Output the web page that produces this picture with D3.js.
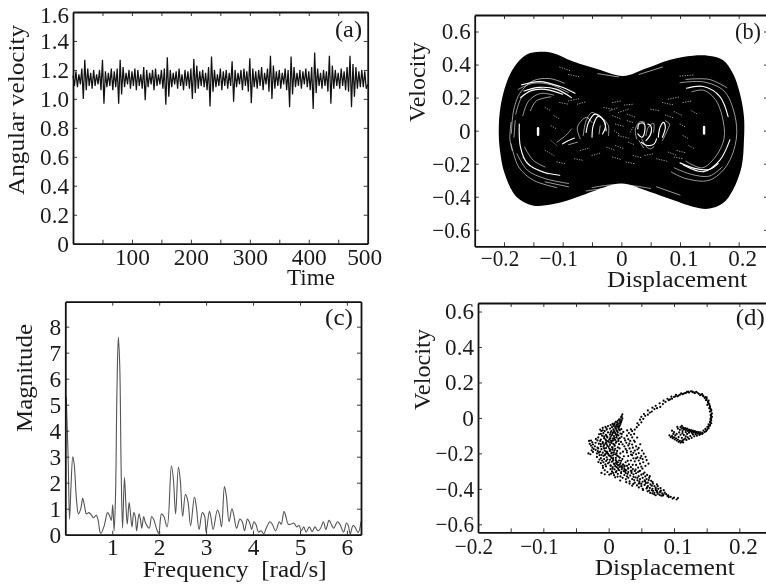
<!DOCTYPE html>
<html>
<head>
<meta charset="utf-8">
<script src="https://cdn.jsdelivr.net/npm/d3@7"></script>
<style>
  html, body { margin: 0; padding: 0; background: #fff; overflow: hidden; }
  svg { display: block; filter: blur(0.4px); }
  text { font-family: "Liberation Serif", serif; fill: #1a1a1a; white-space: pre; }
</style>
</head>
<body>
<svg id="chart" width="766" height="584"></svg>
<script>
/// DATA ///

// (a) angular velocity, one value every 2.5 time units
const velocityStep = 2.5;
const angularVelocity = [
  1.16,1.09,1.19,1.08,1.17,1.10,1.21,1.00,1.27,1.06,1.21,1.09,1.18,1.07,1.20,1.09,1.17,1.10,1.20,1.06,
  1.27,.966,1.19,1.08,1.18,1.09,1.21,1.06,1.19,1.08,1.21,.966,1.27,1.03,1.22,1.08,1.18,1.10,1.20,1.07,
  1.19,1.09,1.21,1.06,1.20,1.09,1.17,1.07,1.22,.99,1.20,1.08,1.18,1.10,1.20,1.06,1.21,1.09,1.17,1.10,
  1.20,1.07,1.21,.96,1.287,1.015,1.20,1.08,1.18,1.10,1.19,1.07,1.21,1.09,1.17,1.06,1.20,1.09,1.19,1.07,
  1.21,1.00,1.275,1.04,1.23,1.07,1.19,1.09,1.20,1.08,1.18,1.06,1.22,.948,1.293,1.05,1.20,1.08,1.17,1.09,
  1.21,1.06,1.19,1.09,1.20,1.07,1.18,1.09,1.26,.98,1.20,1.08,1.18,1.10,1.20,1.06,1.21,1.09,1.19,1.05,
  1.28,.97,1.21,1.08,1.19,1.07,1.20,1.09,1.22,1.06,1.18,1.10,1.21,1.05,1.298,1.00,1.23,1.07,1.19,1.09,
  1.20,1.07,1.18,1.10,1.21,1.06,1.20,.943,1.293,1.03,1.22,1.08,1.18,1.09,1.20,1.07,1.19,1.10,1.21,1.08,
  1.19,1.06,1.22,.93,1.32,1.04,1.21,1.09,1.18,1.07,1.20,1.09,1.19,1.05,1.298,.966,1.23,1.07,1.20,1.09,
  1.18,1.07,1.21,1.09,1.19,1.06,1.22,1.05,1.298,.943,1.24,1.015,1.22,1.07,1.19,1.08,1.20,1.08,1.19,1.07,
  1.10
];

// (b) phase portrait: outline of the black region and the white gaps left by the orbits
const portraitOutline = [
  [-.209,0],[-.206,.145],[-.196,.287],[-.182,.388],[-.162,.459],[-.139,.477],[-.116,.469],[-.082,.418],
  [-.037,.368],[.003,.331],[.043,.378],[.082,.428],[.122,.453],[.148,.453],[.173,.428],[.19,.347],
  [.202,.226],[.209,.085],[.209,-.057],[.205,-.218],[.19,-.36],[.173,-.44],[.148,-.473],[.122,-.46],
  [.088,-.42],[.048,-.37],[0,-.32],[-.043,-.36],[-.082,-.41],[-.116,-.444],[-.151,-.453],[-.179,-.40],
  [-.199,-.259],[-.207,-.117]
];
const wideGaps = [
  [[-.17,.277],[-.1386,.297],[-.1045,.267],[-.079,.227]],
  [[-.166,.24],[-.14,.262],[-.11,.25],[-.085,.2]],
  [[-.172,.2],[-.155,.24],[-.13,.25],[-.1,.22]],
  [[-.174,.04],[-.172,-.1],[-.16,-.2],[-.133,-.25],[-.105,-.27]],
  [[.1,-.195],[.125,-.228],[.15,-.235],[.165,-.2]],
  [[.111,.257],[.14,.267],[.168,.206],[.182,.085]],
  [[.185,-.056],[.168,-.178],[.14,-.248],[.106,-.208]],
  [[-.1,-.08],[-.09,-.06],[-.08,-.045]],
  [[-.06,-.01],[-.056,.05],[-.045,.1],[-.034,.08],[-.027,.03],[-.032,-.02]],
  [[-.05,-.04],[-.048,.03],[-.04,.085],[-.03,.06],[-.026,0]],
  [[.028,.01],[.03,.04],[.038,.045],[.04,0],[.035,-.04],[.028,-.02]],
  [[.063,-.04],[.066,.02],[.072,.05],[.075,.02],[.07,-.04]],
  [[.045,.04],[.05,.03],[.05,-.02],[.042,-.06]],
  [[.034,-.07],[.044,-.09],[.056,-.08],[.06,-.05]]
];
const thinGaps = [
  [[-.1875,-.016],[-.1835,.125],[-.173,.226],[-.151,.301],[-.122,.315],[-.097,.287]],
  [[-.176,.25],[-.15,.287],[-.12,.278],[-.09,.23]],
  [[-.18,.1],[-.17,.2],[-.15,.25]],
  [[-.168,.09],[-.158,.18],[-.138,.225],[-.115,.215]],
  [[-.155,.12],[-.145,.18],[-.12,.205]],
  [[-.188,.05],[-.19,-.05],[-.186,-.12]],
  [[-.181,.06],[-.183,-.04]],
  [[-.165,-.1],[-.15,-.18],[-.13,-.22]],
  [[-.168,-.16],[-.15,-.225],[-.125,-.262]],
  [[-.178,-.14],[-.16,-.24],[-.13,-.29],[-.09,-.32]],
  [[-.13,-.31],[-.09,-.34]],
  [[-.188,-.08],[-.175,-.22],[-.15,-.30],[-.11,-.345]],
  [[-.07,-.05],[-.075,.02],[-.06,.08],[-.05,.05]],
  [[-.065,-.03],[-.06,.06],[-.05,.11],[-.04,.09]],
  [[-.038,-.02],[-.036,.03]],
  [[-.03,.07],[-.022,.03],[-.022,-.03]],
  [[-.09,-.085],[-.075,-.07]],
  [[-.11,-.07],[-.095,-.03],[-.085,.01]],
  [[.026,-.05],[.024,.01],[.032,.055],[.04,.05]],
  [[.042,-.03],[.046,.02],[.055,.045],[.055,-.01]],
  [[.07,-.06],[.078,0],[.082,.04],[.075,.06]],
  [[.035,-.05],[.042,-.095],[.05,-.11],[.056,-.095]],
  [[.03,-.06],[.038,-.105]],
  [[.12,.235],[.14,.245],[.16,.19],[.172,.085],[.175,-.05],[.16,-.16],[.138,-.225],[.11,-.185]],
  [[.1,.29],[.14,.295],[.175,.24],[.193,.1],[.196,-.05],[.18,-.21],[.15,-.3],[.11,-.29],[.085,-.25]],
  [[.11,.31],[.15,.31],[.18,.26]],
  [[.09,-.225],[.12,-.265],[.15,-.275],[.172,-.22]],
  [[.06,-.34],[.1,-.39]],
  [[-.05,-.345],[-.005,-.325],[.05,-.35]],
  [[-.06,-.365],[-.02,-.345]],
  [[-.04,.345],[-.005,.325]],
  [[.03,.34],[.07,.385]]
];
const speckles = [
  [[-.105,.385],[-.085,.36]],[[-.09,.34],[-.07,.325]],[[.1,.33],[.125,.338]],[[.01,.1],[.025,.08]],
  [[-.02,.12],[-.005,.14]],[[-.01,-.09],[.005,-.11]],[[.02,-.15],[.035,-.165]],[[-.05,-.15],[-.035,-.135]],
  [[-.01,.04],[.005,.025]],[[.06,-.17],[.078,-.185]],[[-.09,.18],[-.07,.195]],[[.07,.17],[.09,.155]],
  [[-.13,-.12],[-.115,-.15]],[[-.075,.16],[-.06,.175]],[[-.105,.17],[-.09,.16]],[[.05,.13],[.065,.12]],
  [[.08,.19],[.1,.205]],[[.105,.17],[.12,.18]],[[.09,.115],[.105,.09]],[[.075,.095],[.09,.075]],
  [[-.015,.17],[0,.18]],[[.005,.155],[.02,.16]],[[-.03,.14],[-.015,.13]],[[.01,.06],[.02,.05]],
  [[-.005,-.03],[.012,-.045]],[[.012,-.07],[.022,-.085]],[[-.025,-.1],[-.01,-.12]],[[-.015,-.16],[0,-.175]],
  [[.008,-.19],[.022,-.2]],[[.04,-.15],[.055,-.14]],[[-.07,-.12],[-.055,-.105]],[[-.08,-.17],[-.065,-.18]],
  [[-.11,-.19],[-.095,-.2]],[[.095,-.12],[.11,-.135]],[[.08,-.13],[.095,-.15]],[[.09,-.16],[.105,-.17]],
  [[-.13,.14],[-.12,.12]],[[-.12,-.06],[-.11,-.09]],[[.12,.12],[.13,.1]],[[.115,-.09],[.125,-.11]],
  [[-.015,.09],[0,.07]],[[-.005,.11],[.012,.13]],[[.02,.02],[.015,-.01]],[[-.012,.0],[-.004,-.02]],
  [[-.115,.09],[-.105,.07]],[[.1,.04],[.11,.02]],[[-.12,.03],[-.11,.01]],[[.105,-.03],[.115,-.05]]
];
const centreHoles = [
  [[-.142,.015],[-.142,-.025]],
  [[.141,.022],[.141,-.018]]
];

// (c) amplitude spectrum: [frequency, magnitude]
const spectrum = [
  [.02,5.3],[.06,3.0],[.09,.6],[.12,1.8],[.16,3.0],[.19,2.7],[.24,1.3],[.28,.8],[.33,1.0],[.37,1.4],[.41,1.1],
  [.45,.8],[.5,.85],[.56,.75],[.6,.65],[.66,.75],[.7,.55],[.74,.1],[.76,.05],[.83,.35],[.9,.85],[.95,.7],[.98,.55],
  [1.01,1.15],[1.04,.15],[1.07,1.5],[1.1,5.5],[1.13,7.6],[1.16,6.5],[1.19,2.5],[1.22,.25],[1.26,2.2],[1.29,1.2],
  [1.32,.4],[1.36,1.25],[1.39,.8],[1.42,.3],[1.46,.85],[1.49,.7],[1.52,.15],[1.57,.8],[1.6,.6],[1.63,.25],[1.67,.7],
  [1.7,.5],[1.74,.35],[1.79,.25],[1.84,.7],[1.88,.6],[1.95,.2],[1.99,.05],[2.05,.8],[2.1,.7],[2.17,.3],[2.26,2.65],
  [2.3,2.2],[2.35,.8],[2.41,2.6],[2.45,2.1],[2.5,.7],[2.56,1.55],[2.61,1.3],[2.67,.35],[2.75,1.45],[2.79,1.1],
  [2.85,.2],[2.92,.85],[2.97,.7],[3.0,.1],[3.07,.9],[3.1,.7],[3.15,.2],[3.24,.95],[3.28,.8],[3.33,.3],[3.39,1.85],
  [3.43,1.5],[3.49,.5],[3.55,1.0],[3.59,.75],[3.65,.25],[3.72,.6],[3.77,.5],[3.82,.15],[3.88,.6],[3.93,.45],[3.97,.2],
  [4.02,.5],[4.06,.4],[4.12,.1],[4.17,.15],[4.23,.03],[4.28,.25],[4.36,.5],[4.41,.4],[4.48,.15],[4.56,.5],[4.6,.4],
  [4.66,.9],[4.7,.7],[4.75,.4],[4.8,.4],[4.87,.45],[4.93,.3],[4.98,.35],[5.03,.15],[5.08,.3],[5.13,.1],[5.2,.3],
  [5.26,.12],[5.32,.3],[5.38,.15],[5.44,.25],[5.5,.5],[5.55,.2],[5.62,.55],[5.68,.35],[5.72,.25],[5.8,.5],[5.85,.4],
  [5.93,.1],[5.99,.45],[6.03,.35],[6.07,.03],[6.13,.35],[6.17,.3],[6.24,.08],[6.3,.5]
];

// (d) Poincare section: [displacement, velocity]
const sectionStem = [
  [.021,.02],[.02,.01],[.019,.004],[.021,-.003],[.018,-.01],[.02,-.014],[.016,-.008],[.017,-.02],[.014,-.016],[.019,-.024],
  [.013,-.026],[.016,-.03],[.011,-.022],[.018,-.034],[.009,-.03],[.014,-.037],[.006,-.034],[.012,-.042],[.017,-.044],[.003,-.04],
  [.008,-.046],[.013,-.05],[-.001,-.046],[.005,-.052],[.01,-.056],[.015,-.058],[-.005,-.05],[-.009,-.056],[.002,-.06],[.007,-.064],
  [.012,-.068],[-.003,-.066],[.017,-.07],[-.006,-.074],[.004,-.074],[.009,-.078],[.014,-.082],[-.001,-.082],[.018,-.088],[-.008,-.086],
  [.006,-.088],[.011,-.092],[.002,-.094],[-.004,-.096],[.015,-.098],[-.01,-.1],[.008,-.102],[.003,-.106],[-.002,-.11],[.012,-.11],
  [.017,-.114],[-.007,-.114],[.006,-.116],[.001,-.122],[-.012,-.122],[.01,-.124],[-.004,-.128],[.015,-.13],[.005,-.132],[-.009,-.136],
  [.001,-.138],[.011,-.14],[-.005,-.144],[.007,-.146],[.016,-.148],[-.012,-.148],[.002,-.152],[-.002,-.158],[.009,-.158],[-.008,-.162],
  [.005,-.164],[.014,-.166],[-.004,-.17],[.001,-.174],[.01,-.174],[-.011,-.176],[.006,-.18],[-.006,-.184],[.002,-.186],[.013,-.186],
  [-.002,-.192],[.008,-.194],[-.009,-.196],[.004,-.2],[.018,-.2],[-.005,-.204],[.011,-.206],[0,-.208],[.006,-.212],[-.008,-.214]
];
const sectionCore = [
  [.013,-.036],[.015,-.047],[.011,-.061],[.016,-.066],[.008,-.07],[.013,-.075],[.003,-.083],[.01,-.086],[.005,-.097],[.012,-.101],
  [-.003,-.103],[.009,-.112],[.002,-.115],[-.005,-.121],[.007,-.127],[-.001,-.131],[.012,-.134],[.004,-.141],[-.003,-.149],[.009,-.152],
  [0,-.163],[.006,-.169],[-.007,-.172],[.003,-.178],[.009,-.183],[-.004,-.19],[.005,-.195],[.012,-.199],[-.001,-.202],[.008,-.205],
  [-.006,-.21],[.003,-.216],[.013,-.213],[-.003,-.222],[.007,-.226],[.017,-.224],[-.007,-.232],[.002,-.236],[.011,-.238],[.019,-.242],
  [-.004,-.243],[.005,-.247],[.014,-.25],[-.001,-.256],[.009,-.262],[.017,-.264],[.003,-.27],[.012,-.277],[.021,-.28],[.006,-.286],
  [.015,-.291],[.025,-.293],[.011,-.306],[.019,-.312],[.029,-.315],[.035,-.31],[.024,-.322],[.03,-.338],[.038,-.332],[.044,-.338],
  [.039,-.35],[.047,-.358],[.055,-.352],[.05,-.372],[.057,-.368],[.066,-.382],[.059,-.392],[.072,-.402],[.066,-.408],[.079,-.416],
  [.074,-.418],[.083,-.438],[.067,-.426],[.092,-.447],[-.015,-.196],[-.017,-.168],[-.02,-.14],[-.011,-.208],[-.014,-.235],[-.006,-.318]
];
const sectionScatter = [
  [-.0113,-.0737],[-.0147,-.0921],[-.0068,-.1043],[-.0172,-.1267],[-.0091,-.1438],[-.0196,-.1183],[-.0033,-.0589],[.0073,-.0417],
  [-.0229,-.1754],[-.0167,-.1876],[-.0261,-.1829],[-.0118,-.2267],[-.0157,-.2486],[-.0086,-.2819],[-.0041,-.2731],[.0029,-.2893],
  [.0052,-.3016],[.0083,-.3229],[.0137,-.3307],[.0038,-.3147],[.0214,-.3381],[.0263,-.3463],[.0177,-.3529],[.0321,-.3582],
  [.0377,-.3721],[.0433,-.3804],[.0269,-.3621],[.0462,-.3917],[.0527,-.4063],[.0596,-.4138],[.0473,-.3682],[.0637,-.4229],
  [.0697,-.4308],[.0741,-.4119],[.0807,-.4383],[.0859,-.4217],[.0913,-.4362],[.0613,-.3504],[.0672,-.3618],[.0738,-.3746],
  [.0794,-.3959],[.0843,-.4077],[.0549,-.3079],[.0588,-.3217],[.0629,-.3283],[.0517,-.2863],[.0563,-.2707],[.0412,-.2917],
  [.0368,-.2643],[.0291,-.2417],[.0233,-.2163],[.0277,-.1843],[.0213,-.1487],[.0253,-.1269],[.0197,-.1062],[.0224,-.0791],
  [.0283,-.0704],[.0341,-.0647],[.0317,-.1447],[.0387,-.1273],[.0436,-.1107],[.0483,-.1486],[.0459,-.1693],[.0511,-.1838],
  [.0537,-.2017],[.0486,-.2269],[.0564,-.2193],[.0581,-.2384],[.0609,-.2581],[.0419,-.2283],[.0378,-.1967],[.0343,-.2063],
  [.0219,-.1903],[.0167,-.1719],[.0189,-.1353],[.0148,-.1183],[.0193,-.0637],[.0157,-.0519],[.0089,-.0368],[.0111,-.0489],
  [.0243,-.2691],[.0297,-.2847],[.0351,-.2991],[.0252,-.3017],[.0198,-.2793],[.0148,-.2681],[.0113,-.2537],[.0066,-.2317],
  [.0009,-.2133],[-.0029,-.1973],[-.0071,-.1531],[-.0037,-.1377],[.0035,-.1283],[.0081,-.1171],[.0129,-.0947],[.0067,-.0817]
];
const sectionFan = [
  [-.03,-.13],[-.027,-.128],[-.025,-.138],[-.029,-.146],[-.024,-.15],[-.027,-.156],[-.021,-.16],[-.025,-.168],[-.031,-.2],[-.028,-.205],
  [-.024,-.192],[-.02,-.18],[-.018,-.2],[-.016,-.172],[-.018,-.22],[-.014,-.21],[-.013,-.19],[-.012,-.16],[-.015,-.145],[-.013,-.13],
  [-.016,-.11],[-.012,-.09],[-.009,-.07],[-.013,-.066],[-.01,-.24],[-.012,-.255],[-.009,-.27],[-.011,-.31],[-.006,-.295],[-.002,-.305],
  [.001,-.32],[-.008,-.25],[-.005,-.262],[-.002,-.235],[.001,-.25],[.004,-.225],[.003,-.268],[.007,-.24],[.008,-.258],[.011,-.225],
  [.012,-.245],[.015,-.218],[.006,-.278],[.01,-.272],[.013,-.262],[.016,-.24],[.018,-.255],[.021,-.232],[.022,-.262],[.009,-.29],
  [.014,-.283],[.017,-.276],[.02,-.27],[.024,-.275],[.026,-.25],[.012,-.3],[.016,-.295],[.02,-.29],[.024,-.288],[.028,-.27],
  [.007,-.31],[.014,-.315],[.019,-.305],[.023,-.3],[.027,-.295],[.03,-.285],[.031,-.262],[.034,-.278],[.01,-.335],[.018,-.33]
];
const sectionRidge = [
  [.026,-.31],[.03,-.305],[.034,-.298],[.037,-.288],[.04,-.3],[.028,-.33],[.033,-.325],[.038,-.318],[.042,-.312],[.045,-.305],
  [.048,-.298],[.036,-.345],[.041,-.335],[.046,-.328],[.05,-.32],[.053,-.315],[.056,-.33],[.048,-.345],[.044,-.352],[.052,-.338],
  [.058,-.345],[.062,-.338],[.04,-.365],[.046,-.37],[.052,-.36],[.056,-.358],[.06,-.365],[.065,-.355],[.032,-.37],[.036,-.382],
  [.05,-.385],[.055,-.378],[.06,-.385],[.064,-.375],[.068,-.37],[.07,-.385],[.052,-.4],[.058,-.398],[.063,-.395],[.067,-.4],
  [.072,-.395],[.075,-.385],[.062,-.41],[.068,-.412],[.072,-.408],[.076,-.4],[.08,-.41],[.07,-.422],[.075,-.428],[.078,-.42],
  [.082,-.425],[.072,-.436],[.078,-.434],[.084,-.432],[.088,-.43],[.09,-.44],[.095,-.445],[.1,-.45],[.098,-.455],[.104,-.46],[.106,-.452]
];
const sectionBranch = [
  [.02,-.09],[.024,-.115],[.028,-.1],[.031,-.085],[.034,-.095],[.03,-.12],[.036,-.11],[.039,-.09],[.033,-.13],[.027,-.14],
  [.024,-.16],[.03,-.155],[.036,-.15],[.04,-.135],[.026,-.175],[.032,-.172],[.037,-.168],[.042,-.16],[.028,-.195],[.034,-.19],
  [.04,-.185],[.044,-.178],[.03,-.215],[.036,-.21],[.042,-.205],[.046,-.198],[.038,-.228],[.044,-.222],[.05,-.215],[.034,-.24],
  [.04,-.245],[.046,-.24],[.052,-.232],[.042,-.265],[.048,-.258],[.053,-.25],[.045,-.28],[.05,-.275],[.047,-.3]
];
const sectionArc = [
  [.036,-.075],[.04,-.066],[.043,-.052],[.046,-.04],[.044,-.03],[.05,-.025],[.048,-.01],[.053,-.005],[.05,.006],[.056,.012],
  [.054,.022],[.06,.018],[.063,.03],[.06,.042],[.066,.036],[.07,.05],[.067,.058],[.074,.055],[.072,.068],[.079,.062],
  [.083,.078],[.078,.082],[.087,.09],[.084,.097],[.092,.1],[.09,.108],[.097,.108],[.1,.118],[.096,.12],[.105,.122],
  [.103,.13],[.109,.13],[.113,.134],[.111,.138],[.117,.14],[.12,.147],[.123,.143],[.126,.15],[.129,.145],[.132,.14],
  [.134,.147],[.138,.136],[.14,.128],[.143,.134],[.145,.122],[.147,.112],[.15,.116],[.149,.1],[.152,.094],[.153,.082],
  [.151,.073],[.155,.066],[.154,.055],[.157,.046],[.155,.036],[.158,.026],[.156,.016],[.158,.006],[.156,-.004],[.157,-.014],
  [.155,-.022],[.157,-.03],[.153,-.036],[.155,-.044],[.151,-.05],[.153,-.058],[.148,-.062],[.15,-.07],[.145,-.072],[.147,-.08],
  [.141,-.082],[.143,-.09],[.137,-.088],[.139,-.096],[.133,-.092],[.135,-.1],[.129,-.094],
  [.094,.105],[.102,.122],[.107,.126],[.115,.137],[.119,.143],[.122,.149],[.128,.148],[.131,.143],[.136,.142],[.141,.132],
  [.144,.127],[.148,.118],[.15,.107],[.153,.097],[.152,.087],[.154,.076],[.155,.06],[.156,.05],[.157,.04],[.157,.02],
  [.157,.01],[.157,.0],[.156,-.01],[.156,-.025],[.155,-.038],[.153,-.047],[.151,-.064],[.149,-.075],[.144,-.086],[.14,-.09]
];
const sectionHook = [
  [.112,-.045],[.11,-.052],[.114,-.055],[.112,-.06],[.117,-.058],[.115,-.065],[.12,-.06],[.118,-.068],[.123,-.066],[.121,-.073],
  [.126,-.068],[.124,-.076],[.129,-.072],[.127,-.08],[.132,-.074],[.13,-.082],[.135,-.078],[.133,-.085],[.138,-.08],[.136,-.088],
  [.128,-.086],[.123,-.083],[.118,-.08],[.113,-.074],[.109,-.067],[.106,-.06],[.105,-.05],
  [.116,-.062],[.119,-.064],[.122,-.07],[.125,-.072],[.128,-.076],[.131,-.078],[.134,-.082],[.137,-.084],[.14,-.086],
  [.093,-.098],[.095,-.108],[.097,-.103],[.098,-.114],[.1,-.109],[.101,-.121],[.103,-.115],[.104,-.128],[.106,-.122],[.107,-.135],
  [.109,-.13],[.11,-.14],[.112,-.134],[.113,-.127],[.115,-.122],[.114,-.138],[.117,-.116],[.119,-.124],[.121,-.11],[.123,-.118],
  [.125,-.102],[.127,-.112],[.118,-.104],[.112,-.112],[.107,-.108],[.102,-.098],[.099,-.09],[.097,-.072],[.1,-.08],[.104,-.09],
  [.11,-.095],[.115,-.096],[.12,-.09],[.108,-.082],[.113,-.086],[.131,-.104]
];

// tick positions
const timeTicks = [50,100,150,200,250,300,350,400,450,500];
const timeLabels = [100,200,300,400,500];
const velocityTicksA = [0,.2,.4,.6,.8,1,1.2,1.4,1.6];
const velocityTicksB = [-.6,-.4,-.2,0,.2,.4,.6];
const displacementTicks = [-.2,-.15,-.1,-.05,0,.05,.1,.15,.2];
const displacementLabels = [-.2,-.1,0,.1,.2];
const frequencyTicks = [1,2,3,4,5,6];
const magnitudeTicks = [0,1,2,3,4,5,6,7,8];


/// HELPERS ///
const svg = d3.select("#chart");
const fontSize = 23;

// label widths follow the wide digits of the original font
function tickWidth(s) {
  let w = 0;
  for (const c of s) w += c === "." ? 5.5 : c === "\u2212" ? 9.5 : 11.7;
  return w;
}

function signed(t) {
  if (t === 0) return "0";
  return (t < 0 ? "\u2212" : "") + Math.abs(t).toFixed(1);
}

function styleTicks(sel) {
  sel.selectAll("line").attr("stroke", "#222").attr("stroke-width", 0.9);
  sel.select(".domain").attr("stroke", "#111").attr("stroke-width", 1.8);
  sel.selectAll("text").filter(function() { return this.textContent === ""; }).remove();
  sel.selectAll("text")
    .style("font-size", fontSize + "px")
    .style("font-family", '"Liberation Serif", serif')
    .attr("fill", "#1a1a1a")
    .attr("lengthAdjust", "spacingAndGlyphs")
    .attr("textLength", function() { return tickWidth(this.textContent); });
}

// box with inward ticks on all four sides
function addAxes(g, x, y, opts) {
  const [r0, r1] = x.range();
  const [b, t] = y.range();

  const bottom = d3.axisBottom(x).tickValues(opts.xTicks).tickSize(-4).tickSizeOuter(0)
    .tickPadding(opts.xPad).tickFormat(opts.xFormat);
  const left = d3.axisLeft(y).tickValues(opts.yTicks).tickSize(-4).tickSizeOuter(0)
    .tickPadding(4).tickFormat(opts.yFormat);
  const top = d3.axisTop(x).tickValues(opts.xTicks).tickSize(-4).tickSizeOuter(0).tickFormat("");
  const right = d3.axisRight(y).tickValues(opts.yTicks).tickSize(-4).tickSizeOuter(0).tickFormat("");

  g.append("g").attr("transform", `translate(0,${t})`).call(top).call(styleTicks);
  g.append("g").attr("transform", `translate(${r1},0)`).call(right).call(styleTicks);
  g.append("g").attr("class", "x-axis").attr("transform", `translate(0,${b})`).call(bottom).call(styleTicks);
  g.append("g").attr("transform", `translate(${r0},0)`).call(left).call(styleTicks);
}

function addText(str, x, y, width, rotate) {
  svg.append("text")
    .attr("transform", `translate(${x},${y})` + (rotate ? " rotate(-90)" : ""))
    .attr("text-anchor", rotate ? "middle" : "start")
    .attr("textLength", width)
    .attr("lengthAdjust", "spacingAndGlyphs")
    .style("font-size", (fontSize + 1) + "px")
    .text(str);
}

// signed labels sit a little off their ticks in the original
function shiftNumbers(g) {
  g.select(".x-axis").selectAll("text")
    .attr("x", d => d < 0 ? -4.5 : d > 0 ? 3.5 : 0);
}


/// PANEL A ///
{
  const x = d3.scaleLinear().domain([0, 500]).range([73, 367.7]);
  const y = d3.scaleLinear().domain([0, 1.6]).range([243.7, 12]);
  const g = svg.append("g");

  const line = d3.line()
    .x((d, i) => x(i * velocityStep))
    .y(d => y(d));

  g.append("path")
    .datum(angularVelocity)
    .attr("fill", "none")
    .attr("stroke", "#111")
    .attr("stroke-width", 1.25)
    .attr("stroke-linejoin", "bevel")
    .attr("d", line);

  addAxes(g, x, y, {
    xTicks: timeTicks,
    yTicks: velocityTicksA,
    xPad: 5,
    xFormat: d => timeLabels.includes(d) ? d : "",
    yFormat: d => d === 0 ? "0" : d.toFixed(1)
  });

  g.selectAll("g.tick text")
    .filter(d => d === 1.6)
    .attr("dy", "0.46em");
  g.selectAll("g.tick text")
    .filter(d => d === 500)
    .attr("x", -3.5);
}


/// PANEL B ///
{
  const x = d3.scaleLinear().domain([-.25, .25]).range([474.7, 768]);
  const y = d3.scaleLinear().domain([-.7, .7]).range([246.3, 15]);
  const g = svg.append("g");

  const line = d3.line().x(d => x(d[0])).y(d => y(d[1])).curve(d3.curveCatmullRom);
  const closed = d3.line().x(d => x(d[0])).y(d => y(d[1])).curve(d3.curveCatmullRomClosed);

  g.append("path")
    .datum(portraitOutline)
    .attr("fill", "#000")
    .attr("d", closed);

  const drawGaps = (curves, w, dash) => g.selectAll(null)
    .data(curves)
    .enter()
    .append("path")
    .attr("fill", "none")
    .attr("stroke", "#fff")
    .attr("stroke-width", w)
    .attr("stroke-dasharray", dash)
    .attr("stroke-linecap", "round")
    .attr("d", line);

  drawGaps(speckles, 0.6, "0.5 2");
  drawGaps(thinGaps, 0.6, null);
  drawGaps(wideGaps, 1.15, null);
  drawGaps(centreHoles, 2.4, null);

  addAxes(g, x, y, {
    xTicks: displacementTicks,
    yTicks: velocityTicksB,
    xPad: 3.1,
    xFormat: d => displacementLabels.includes(d) ? signed(d) : "",
    yFormat: signed
  });
  shiftNumbers(g);
}


/// PANEL C ///
{
  const x = d3.scaleLinear().domain([0, 6.3]).range([65.3, 361]);
  const y = d3.scaleLinear().domain([0, 8.96]).range([534.7, 301.7]);
  const g = svg.append("g");

  const line = d3.line().x(d => x(d[0])).y(d => y(d[1])).curve(d3.curveCatmullRom);

  g.append("path")
    .datum(spectrum)
    .attr("fill", "none")
    .attr("stroke", "#555")
    .attr("stroke-width", 1.1)
    .attr("d", line);

  addAxes(g, x, y, {
    xTicks: frequencyTicks,
    yTicks: magnitudeTicks,
    xPad: 4,
    xFormat: d => d,
    yFormat: d => d
  });
}


/// PANEL D ///
{
  const x = d3.scaleLinear().domain([-.2, .25]).range([478, 772]);
  const y = d3.scaleLinear().domain([-.645, .648]).range([532.3, 303]);
  const g = svg.append("g");

  const points = [].concat(sectionStem, sectionCore, sectionScatter, sectionFan, sectionRidge, sectionBranch, sectionArc, sectionHook);

  g.selectAll("circle")
    .data(points)
    .enter()
    .append("circle")
    .attr("cx", d => x(d[0]))
    .attr("cy", d => y(d[1]))
    .attr("r", 1.1)
    .attr("fill", "#000");

  addAxes(g, x, y, {
    xTicks: displacementTicks,
    yTicks: velocityTicksB,
    xPad: 5.1,
    xFormat: d => displacementLabels.includes(d) ? signed(d) : "",
    yFormat: signed
  });
  shiftNumbers(g);
}


/// LABELS ///
addText("Angular velocity", 24, 110, 170, true);
addText("Time", 287, 285, 48);
addText("(a)", 335, 37, 27);

addText("Velocity", 425, 82, 80, true);
addText("Displacement", 607, 287, 140);
addText("(b)", 735, 39, 26);

addText("Magnitude", 32, 378, 108, true);
addText("Frequency  [rad/s]", 142.7, 577, 184);
addText("(c)", 325, 325, 28);

addText("Velocity", 430, 369.5, 81, true);
addText("Displacement", 594.7, 575, 140);
addText("(d)", 735.7, 325, 29);
</script>
</body>
</html>
